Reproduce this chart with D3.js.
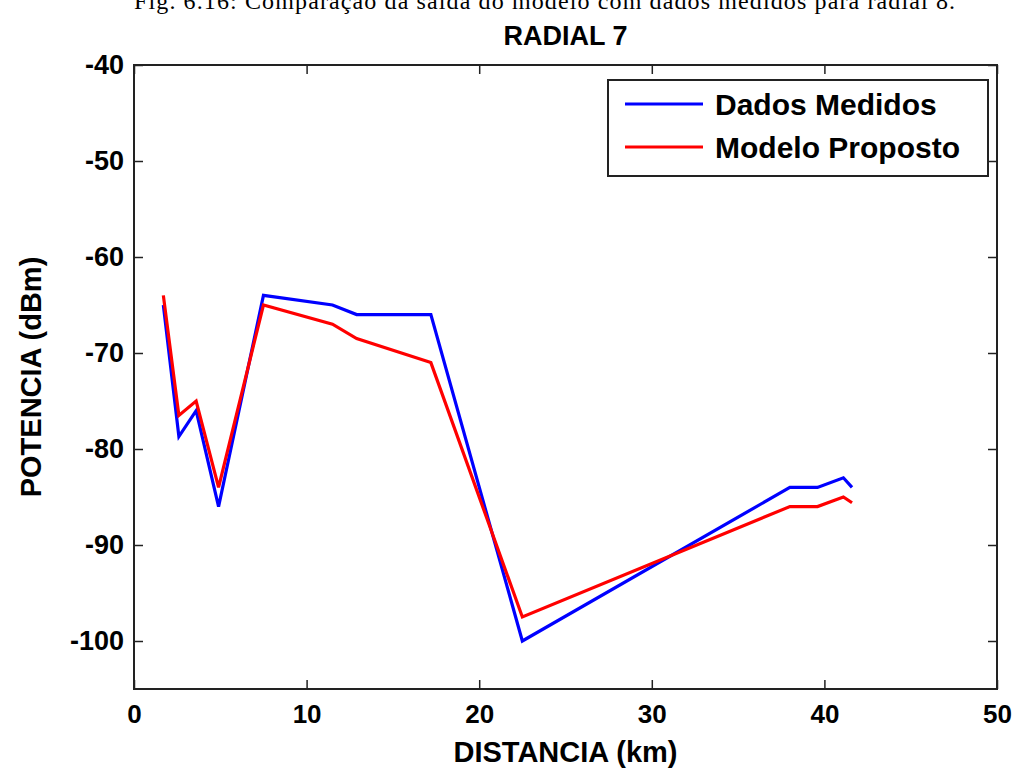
<!DOCTYPE html>
<html>
<head>
<meta charset="utf-8">
<script src="https://cdn.jsdelivr.net/npm/d3@7"></script>
<style>
  html, body { margin: 0; padding: 0; background: #fff; }
  svg { display: block; }
  .lbl { font-family: "Liberation Sans", Arial, sans-serif; font-weight: bold; fill: #000; }
</style>
</head>
<body>
<svg id="chart" width="1021" height="769"></svg>
<script>
// Distance along the radial (km)
const distancia = [1.7, 2.6, 3.6, 4.9, 7.5, 11.5, 12.9, 17.2, 22.5, 38.0, 39.6, 41.1, 41.6];
// Measured received power (dBm)
const dadosMedidos = [-65, -78.7, -76, -86, -64, -65, -66, -66, -100, -84, -84, -83, -84];
// Proposed model output (dBm)
const modeloProposto = [-64, -76.5, -75, -84, -65, -67, -68.5, -71, -97.5, -86, -86, -85, -85.6];

const xTicks = [0, 10, 20, 30, 40, 50];
const yTicks = [-40, -50, -60, -70, -80, -90, -100];

const series = [
  { name: "Dados Medidos", values: dadosMedidos, color: "#0000ff" },
  { name: "Modelo Proposto", values: modeloProposto, color: "#ff0000" }
];

const svg = d3.select("#chart");
const m = { left: 134, right: 1021 - 997, top: 65, bottom: 769 - 689 };
const W = 1021 - m.left - m.right;
const H = 769 - m.top - m.bottom;

const x = d3.scaleLinear().domain([0, 50]).range([0, W]);
const y = d3.scaleLinear().domain([-105, -40]).range([H, 0]);
const plain = d => String(d); // ASCII hyphen for negatives

// Figure caption above the axes (runs off the page top)
svg.append("text")
  .attr("x", 134).attr("y", 9)
  .attr("font-family", "Liberation Serif, Times New Roman, serif")
  .attr("font-size", 24)
  .attr("textLength", 821)
  .text("Fig. 6.16: Comparação da saída do modelo com dados medidos para radial 8.");

const g = svg.append("g").attr("transform", `translate(${m.left},${m.top})`);

// Data lines
const line = d3.line()
  .x((d, i) => x(distancia[i]))
  .y(d => y(d));

series.forEach(s => {
  g.append("path")
    .datum(s.values)
    .attr("fill", "none")
    .attr("stroke", s.color)
    .attr("stroke-width", 3.2)
    .attr("stroke-linejoin", "miter")
    .attr("d", line);
});

// Axes with inward ticks on all four sides
const tickLen = 9;
const axisColor = "#222";
const styleAxis = sel => {
  sel.select(".domain").remove();
  sel.selectAll(".tick line").attr("stroke", axisColor).attr("stroke-width", 1.5);
};

g.append("g").attr("transform", `translate(0,${H})`)
  .call(d3.axisBottom(x).tickValues(xTicks).tickSize(-tickLen).tickPadding(16).tickFormat(plain))
  .call(styleAxis)
  .selectAll("text").attr("class", "lbl").attr("font-size", 26).attr("dy", "0.71em");

g.append("g")
  .call(d3.axisTop(x).tickValues(xTicks).tickSize(-tickLen).tickFormat(""))
  .call(styleAxis);

g.append("g")
  .call(d3.axisLeft(y).tickValues(yTicks).tickSize(-tickLen).tickPadding(10).tickFormat(plain))
  .call(styleAxis)
  .selectAll("text").attr("class", "lbl").attr("font-size", 27);

g.append("g").attr("transform", `translate(${W},0)`)
  .call(d3.axisRight(y).tickValues(yTicks).tickSize(-tickLen).tickFormat(""))
  .call(styleAxis);

// Box around the plotting area
g.append("rect")
  .attr("width", W).attr("height", H)
  .attr("fill", "none").attr("stroke", axisColor).attr("stroke-width", 2);

// Titles
svg.append("text").attr("class", "lbl")
  .attr("x", m.left + W / 2).attr("y", 45)
  .attr("text-anchor", "middle").attr("font-size", 27)
  .text("RADIAL 7");

svg.append("text").attr("class", "lbl")
  .attr("x", m.left + W / 2).attr("y", 762)
  .attr("text-anchor", "middle").attr("font-size", 29)
  .text("DISTANCIA (km)");

svg.append("text").attr("class", "lbl")
  .attr("transform", `translate(41,${m.top + H / 2}) rotate(-90)`)
  .attr("text-anchor", "middle").attr("font-size", 29)
  .text("POTENCIA (dBm)");

// Legend
const lg = svg.append("g");
lg.append("rect")
  .attr("x", 608).attr("y", 80).attr("width", 380).attr("height", 96)
  .attr("fill", "#fff").attr("stroke", axisColor).attr("stroke-width", 2);

series.forEach((s, i) => {
  const cy = 104 + i * 43;
  lg.append("line")
    .attr("x1", 625).attr("x2", 703).attr("y1", cy).attr("y2", cy)
    .attr("stroke", s.color).attr("stroke-width", 3.2);
  lg.append("text").attr("class", "lbl")
    .attr("x", 715).attr("y", cy + 11).attr("font-size", 30)
    .text(s.name);
});
</script>
</body>
</html>
